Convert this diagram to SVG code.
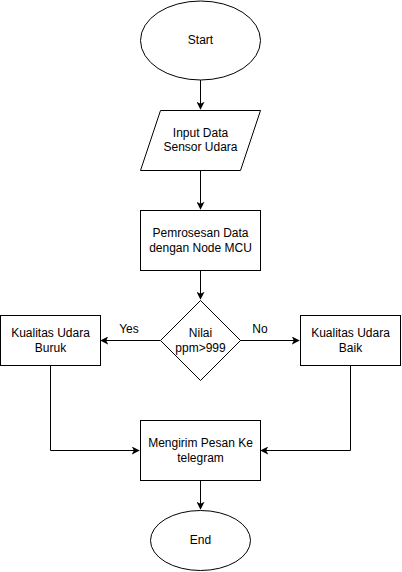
<svg xmlns="http://www.w3.org/2000/svg" width="402" height="572" viewBox="0 0 402 572">
<style>
.s{fill:#fff;stroke:#000;stroke-width:1}
.t{font-family:"Liberation Sans",Arial,sans-serif;font-size:12px;fill:#000;text-anchor:middle;dominant-baseline:central}
.c{fill:none;stroke:#000;stroke-width:1}
</style>
<defs>
<marker id="a" viewBox="0 0 10 10" refX="9" refY="5" markerWidth="8" markerHeight="8" markerUnits="userSpaceOnUse" orient="auto">
<path d="M0,0 L10,5 L0,10 L2.5,5 Z" fill="#000"/>
</marker>
</defs>
<rect width="402" height="572" fill="#fff"/>
<g id="connectors">
<path class="c" d="M200.5,80 V109" marker-end="url(#a)"/>
<path class="c" d="M200.5,170 V209" marker-end="url(#a)"/>
<path class="c" d="M200.5,270 V299" marker-end="url(#a)"/>
<path class="c" d="M160,340.5 H101" marker-end="url(#a)"/>
<path class="c" d="M240,340.5 H299" marker-end="url(#a)"/>
<path class="c" d="M50.5,365 V450.5 H139" marker-end="url(#a)"/>
<path class="c" d="M350.5,365 V450.5 H261" marker-end="url(#a)"/>
<path class="c" d="M200.5,480 V509" marker-end="url(#a)"/>
<text class="t" x="129" y="329">Yes</text>
<text class="t" x="260" y="329">No</text>
</g>
<g id="start"><ellipse class="s" cx="200.5" cy="40.5" rx="60" ry="39.5"/><text class="t" x="200.5" y="40">Start</text></g>
<g id="input"><path class="s" d="M160.5,110.5 H260.5 L240.5,170.5 H140.5 Z"/><text class="t" x="200.5" y="133">Input Data</text><text class="t" x="200.5" y="147">Sensor Udara</text></g>
<g id="process"><rect class="s" x="140.5" y="210.5" width="120" height="60"/><text class="t" x="200.5" y="233">Pemrosesan Data</text><text class="t" x="200.5" y="248">dengan Node MCU</text></g>
<g id="decision"><path class="s" d="M200.5,300.5 L240.5,340.5 L200.5,380.5 L160.5,340.5 Z"/><text class="t" x="200.5" y="333">Nilai</text><text class="t" x="200.5" y="348">ppm&gt;999</text></g>
<g id="buruk"><rect class="s" x="0.5" y="315.5" width="100" height="50"/><text class="t" x="50.5" y="333">Kualitas Udara</text><text class="t" x="50.5" y="348">Buruk</text></g>
<g id="baik"><rect class="s" x="300.5" y="315.5" width="100" height="50"/><text class="t" x="350.5" y="333">Kualitas Udara</text><text class="t" x="350.5" y="348">Baik</text></g>
<g id="kirim"><rect class="s" x="140.5" y="420.5" width="120" height="60"/><text class="t" x="200.5" y="443">Mengirim Pesan Ke</text><text class="t" x="200.5" y="458">telegram</text></g>
<g id="end"><ellipse class="s" cx="200.5" cy="540.5" rx="50" ry="30"/><text class="t" x="200.5" y="540">End</text></g>
</svg>
